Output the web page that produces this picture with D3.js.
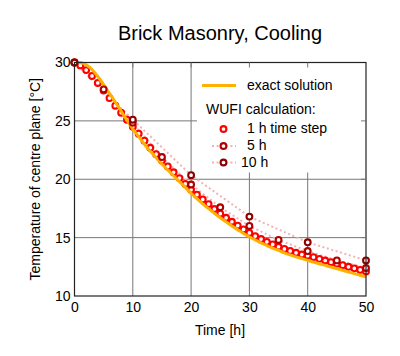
<!DOCTYPE html>
<html><head><meta charset="utf-8">
<script src="https://cdn.jsdelivr.net/npm/d3@7"></script>
<style>
html,body{margin:0;padding:0;background:#fff;}
svg{display:block;font-family:"Liberation Sans",Arial,sans-serif;}
</style></head>
<body>
<script>
// ---- data ----
const title = "Brick Masonry, Cooling";
const xLabel = "Time [h]";
const yLabel = "Temperature of centre plane [°C]";
const xTicks = [0, 10, 20, 30, 40, 50];
const yTicks = [10, 15, 20, 25, 30];

const exactTime = [0,1,2,3,4,5,6,7,8,9,10,11,12,13,14,15,16,17,18,19,20,21,22,23,24,25,26,27,28,29,30,31,32,33,34,35,36,37,38,39,40,41,42,43,44,45,46,47,48,49,50];
const exactTemp = [30.0,29.97,29.8,29.4,28.8,28.1,27.35,26.6,25.85,25.05,24.3,23.65,23.0,22.4,21.85,21.3,20.8,20.3,19.8,19.3,18.8,18.35,17.9,17.48,17.08,16.7,16.35,16.0,15.68,15.35,15.05,14.8,14.55,14.32,14.1,13.9,13.7,13.52,13.35,13.2,13.05,12.9,12.76,12.62,12.48,12.35,12.2,12.06,11.92,11.78,11.65];

const step1Time = [0,1,2,3,4,5,6,7,8,9,10,11,12,13,14,15,16,17,18,19,20,21,22,23,24,25,26,27,28,29,30,31,32,33,34,35,36,37,38,39,40,41,42,43,44,45,46,47,48,49,50];
const step1Temp = [30.0,29.75,29.35,28.85,28.25,27.6,26.95,26.3,25.7,25.1,24.5,23.9,23.3,22.7,22.15,21.6,21.1,20.6,20.1,19.6,19.1,18.68,18.27,17.87,17.45,17.05,16.7,16.36,16.03,15.7,15.4,15.13,14.88,14.64,14.42,14.22,14.03,13.86,13.7,13.55,13.45,13.33,13.18,13.04,12.9,12.77,12.64,12.5,12.37,12.24,12.1];

const step5Time = [0,5,10,15,20,25,30,35,40,45,50];
const step5Temp = [30.0,27.7,24.85,21.9,19.55,17.6,16.0,14.8,13.85,13.05,12.4];

const step10Time = [0,10,20,30,40,50];
const step10Temp = [30.0,25.1,20.35,16.8,14.6,13.05];

const legendLabels = ["exact solution","WUFI calculation:","1 h time step","5 h","10 h"];

// ---- colours ----
const cExact = "#ffb000", c1 = "#ff0000", c5 = "#b00000", c10 = "#8c0000", cDot = "#f0b4b4";

const W = 400, H = 356;
const svg = d3.select("body").append("svg").attr("width", W).attr("height", H);
const m = {l: 74.5, r: 366, t: 62.5, b: 296};
const x = d3.scaleLinear().domain([0, 50]).range([m.l, m.r]);
const y = d3.scaleLinear().domain([10, 30]).range([m.b, m.t]);

const zip = (a, b) => a.map((v, i) => [v, b[i]]);

// grid
const grid = svg.append("g");
grid.selectAll("line.vx").data(xTicks.slice(1, -1)).join("line")
  .attr("x1", d => x(d)).attr("x2", d => x(d)).attr("y1", m.t).attr("y2", m.b)
  .attr("stroke", "#777").attr("stroke-width", 1);
grid.selectAll("line.hy").data(yTicks.slice(1, -1)).join("line")
  .attr("y1", d => y(d)).attr("y2", d => y(d)).attr("x1", m.l).attr("x2", m.r)
  .attr("stroke", "#777").attr("stroke-width", 1);

const plot = svg.append("g");
const lin = d3.line().x(d => x(d[0])).y(d => y(d[1]));
const smooth = d3.line().x(d => x(d[0])).y(d => y(d[1])).curve(d3.curveMonotoneX);

// dotted lines for 5 h and 10 h
[[step5Time, step5Temp], [step10Time, step10Temp]].forEach(([t, v]) => {
  plot.append("path").datum(zip(t, v)).attr("d", lin)
    .attr("fill", "none").attr("stroke", cDot).attr("stroke-width", 2)
    .attr("stroke-dasharray", "2,2.6");
});

// 1 h circles
plot.append("g").selectAll("circle").data(zip(step1Time, step1Temp)).join("circle")
  .attr("cx", d => x(d[0])).attr("cy", d => y(d[1])).attr("r", 2.9)
  .attr("fill", "#fff").attr("stroke", c1).attr("stroke-width", 2.1);

// exact solution
plot.append("path").datum(zip(exactTime, exactTemp)).attr("d", smooth)
  .attr("fill", "none").attr("stroke", cExact).attr("stroke-width", 3);

// 5 h and 10 h circles
plot.append("g").selectAll("circle").data(zip(step5Time, step5Temp)).join("circle")
  .attr("cx", d => x(d[0])).attr("cy", d => y(d[1])).attr("r", 2.9)
  .attr("fill", "#fff").attr("stroke", c5).attr("stroke-width", 2.1);
plot.append("g").selectAll("circle").data(zip(step10Time, step10Temp)).join("circle")
  .attr("cx", d => x(d[0])).attr("cy", d => y(d[1])).attr("r", 2.9)
  .attr("fill", "#fff").attr("stroke", c10).attr("stroke-width", 2.1);

// legend
const lg = svg.append("g");
lg.append("rect").attr("x", 197).attr("y", m.t + 1).attr("width", m.r - 197 - 1).attr("height", 109).attr("fill", "#fff");
lg.append("line").attr("x1", 202).attr("x2", 236).attr("y1", 85.5).attr("y2", 85.5)
  .attr("stroke", cExact).attr("stroke-width", 3);
lg.append("text").attr("x", 247).attr("y", 90).attr("font-size", 14).text(legendLabels[0]);
lg.append("text").attr("x", 206).attr("y", 114).attr("font-size", 14).text(legendLabels[1]);
lg.append("circle").attr("cx", 223.5).attr("cy", 129).attr("r", 2.9).attr("fill", "#fff").attr("stroke", c1).attr("stroke-width", 2.1);
lg.append("text").attr("x", 247).attr("y", 133).attr("font-size", 14).text(legendLabels[2]);
lg.append("line").attr("x1", 212).attr("x2", 236).attr("y1", 146).attr("y2", 146)
  .attr("stroke", cDot).attr("stroke-width", 2).attr("stroke-dasharray", "2,2.6");
lg.append("circle").attr("cx", 223.5).attr("cy", 146).attr("r", 2.9).attr("fill", "#fff").attr("stroke", c5).attr("stroke-width", 2.1);
lg.append("text").attr("x", 247).attr("y", 150).attr("font-size", 14).text(legendLabels[3]);
lg.append("line").attr("x1", 212).attr("x2", 236).attr("y1", 162.5).attr("y2", 162.5)
  .attr("stroke", cDot).attr("stroke-width", 2).attr("stroke-dasharray", "2,2.6");
lg.append("circle").attr("cx", 223.5).attr("cy", 162.5).attr("r", 2.9).attr("fill", "#fff").attr("stroke", c10).attr("stroke-width", 2.1);
lg.append("text").attr("x", 241).attr("y", 166.5).attr("font-size", 14).text(legendLabels[4]);

// frame + inner ticks (top/right)
const fr = svg.append("g");
fr.append("rect").attr("x", m.l).attr("y", m.t).attr("width", m.r - m.l).attr("height", m.b - m.t)
  .attr("fill", "none").attr("stroke", "#222").attr("stroke-width", 1.2);
fr.selectAll("line.tt").data(xTicks.slice(1, -1)).join("line")
  .attr("x1", d => x(d)).attr("x2", d => x(d)).attr("y1", m.t).attr("y2", m.t + 5)
  .attr("stroke", "#777");
fr.selectAll("line.rt").data(yTicks.slice(1, -1)).join("line")
  .attr("y1", d => y(d)).attr("y2", d => y(d)).attr("x1", m.r).attr("x2", m.r - 5)
  .attr("stroke", "#777");

// axes via d3 axis (labels only)
const xAxis = svg.append("g").attr("transform", `translate(0,${m.b})`)
  .call(d3.axisBottom(x).tickValues(xTicks).tickSize(0).tickPadding(6).tickFormat(d3.format("d")));
const yAxis = svg.append("g").attr("transform", `translate(${m.l},0)`)
  .call(d3.axisLeft(y).tickValues(yTicks).tickSize(0).tickPadding(4).tickFormat(d3.format("d")));
[xAxis, yAxis].forEach(g => {
  g.select(".domain").remove();
  g.selectAll("text").attr("font-size", 14).attr("font-family", "'Liberation Sans',Arial,sans-serif").attr("fill", "#000");
});

svg.append("text").attr("x", 220).attr("y", 40).attr("text-anchor", "middle")
  .attr("font-size", 20).text(title);
svg.append("text").attr("x", 220).attr("y", 335).attr("text-anchor", "middle")
  .attr("font-size", 14).text(xLabel);
svg.append("text").attr("transform", `translate(40,${(m.t + m.b) / 2}) rotate(-90)`)
  .attr("text-anchor", "middle").attr("font-size", 14).text(yLabel);
</script>
</body></html>
